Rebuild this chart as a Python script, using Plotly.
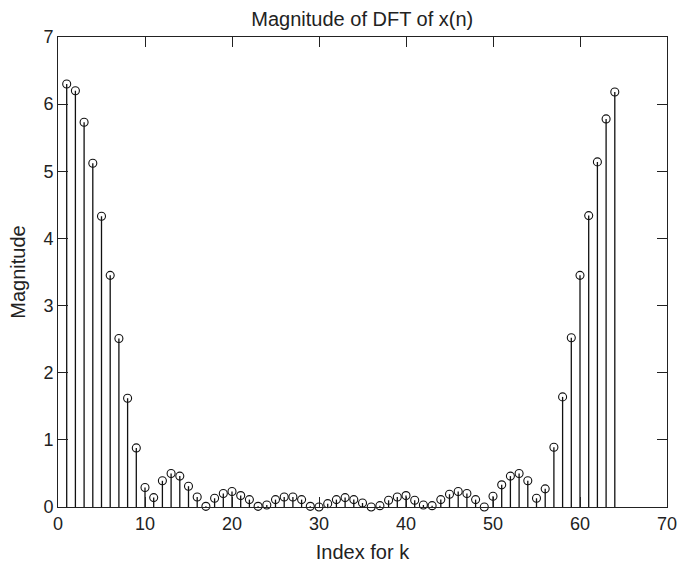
import plotly.graph_objects as go

k = list(range(1, 65))
magnitude = [
    6.30, 6.20, 5.73, 5.12, 4.33, 3.45, 2.51, 1.62, 0.88, 0.29,
    0.14, 0.39, 0.50, 0.46, 0.31, 0.15, 0.01, 0.13, 0.20, 0.23,
    0.17, 0.11, 0.01, 0.03, 0.11, 0.15, 0.15, 0.11, 0.01, 0.00,
    0.05, 0.11, 0.14, 0.11, 0.06, 0.00, 0.02, 0.10, 0.15, 0.17,
    0.10, 0.03, 0.02, 0.11, 0.19, 0.23, 0.20, 0.11, 0.00, 0.16,
    0.33, 0.46, 0.50, 0.39, 0.13, 0.27, 0.89, 1.64, 2.52, 3.45,
    4.34, 5.14, 5.78, 6.18,
]
x_ticks = [0, 10, 20, 30, 40, 50, 60, 70]
y_ticks = [0, 1, 2, 3, 4, 5, 6, 7]

fig = go.Figure()
fig.add_trace(go.Scatter(
    x=k, y=magnitude, mode="markers",
    marker=dict(symbol="circle-open", size=8, color="#111",
                line=dict(width=1.1, color="#111")),
    error_y=dict(type="data", symmetric=False,
                 array=[0] * len(magnitude), arrayminus=magnitude,
                 width=0, thickness=1.3, color="#111"),
    cliponaxis=False, showlegend=False, hoverinfo="skip",
))

axis_common = dict(
    showgrid=False, zeroline=False, showline=True, linecolor="#222",
    linewidth=1, mirror="ticks", ticks="inside", ticklen=10,
    tickcolor="#222", tickwidth=1,
    tickfont=dict(family="Liberation Sans, Arial, sans-serif", size=18, color="#222"),
)

fig.update_layout(
    width=681, height=566,
    margin=dict(l=58, r=14, t=37, b=59, autoexpand=False),
    paper_bgcolor="white", plot_bgcolor="white",
    font=dict(family="Liberation Sans, Arial, sans-serif", color="#222"),
    title=dict(text="Magnitude of DFT of x(n)", x=0.532, xanchor="center",
               y=0.966, yanchor="middle",
               font=dict(size=20, color="#222")),
    xaxis=dict(range=[0, 70], tickvals=x_ticks, ticktext=[str(v) for v in x_ticks],
               title=dict(text="Index for k", standoff=12,
                          font=dict(size=20, color="#222")),
               automargin=False, **axis_common),
    yaxis=dict(range=[0, 7], tickvals=y_ticks, ticktext=[str(v) for v in y_ticks],
               title=dict(text="Magnitude", standoff=12,
                          font=dict(size=20, color="#222")),
               automargin=False, ticklabelstandoff=0, **axis_common),
)

fig.write_html(
    "out.html",
    config={"displayModeBar": False, "staticPlot": True},
    post_script="document.body.style.margin='0';document.body.style.overflow='hidden';",
)
